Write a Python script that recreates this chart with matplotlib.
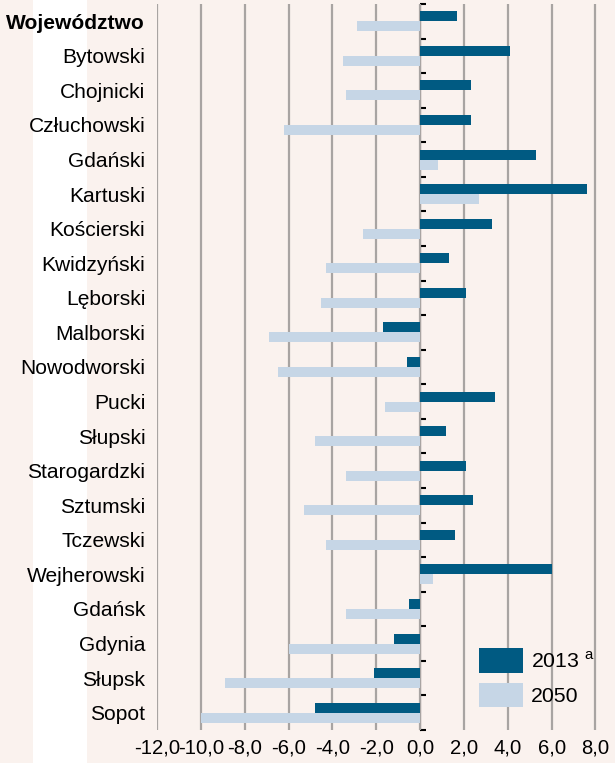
import numpy as np
import matplotlib
matplotlib.use('Agg')
import matplotlib.pyplot as plt
import matplotlib.transforms as mtransforms
from matplotlib.patches import Rectangle

plt.rcParams['font.family'] = ['Liberation Sans', 'DejaVu Sans']
plt.rcParams['mathtext.fontset'] = 'custom'
plt.rcParams['mathtext.rm'] = 'Liberation Sans'

regions = ['Województwo', 'Bytowski', 'Chojnicki', 'Człuchowski', 'Gdański',
           'Kartuski', 'Kościerski', 'Kwidzyński', 'Lęborski', 'Malborski',
           'Nowodworski', 'Pucki', 'Słupski', 'Starogardzki', 'Sztumski',
           'Tczewski', 'Wejherowski', 'Gdańsk', 'Gdynia', 'Słupsk', 'Sopot']
val_2013 = [1.7, 4.1, 2.3, 2.3, 5.3, 7.6, 3.3, 1.3, 2.1, -1.7,
            -0.6, 3.4, 1.2, 2.1, 2.4, 1.6, 6.0, -0.5, -1.2, -2.1, -4.8]
val_2050 = [-2.9, -3.5, -3.4, -6.2, 0.8, 2.7, -2.6, -4.3, -4.5, -6.9,
            -6.5, -1.6, -4.8, -3.4, -5.3, -4.3, 0.6, -3.4, -6.0, -8.9, -10.0]
xticks = [-12, -10, -8, -6, -4, -2, 0, 2, 4, 6, 8]
# small horizontal shifts (px) of the tick labels, as in the original
xlabel_shift = [-12.7, -4, -0.3, -3, -4.7, -9, -2.7, -3, 0, 0.3, 1.7]

bg = '#faf2ee'
dark = '#005a82'
light = '#c6d6e6'

fig = plt.figure(figsize=(6.15, 7.63), dpi=100, facecolor=bg)
# white strip behind labels
fig.patches.append(Rectangle((33 / 615, 0), 54 / 615, 1, transform=fig.transFigure,
                             facecolor='white', edgecolor='none', zorder=-1))
ax = fig.add_axes([157 / 615, 33 / 763, 1 - 157 / 615, 1 - 37 / 763])
ax.set_facecolor(bg)

y = np.arange(len(regions))
h = 0.29
ax.barh(y - h / 2, val_2013, height=h, color=dark, label='2013 $^{\\mathrm{a}}$', zorder=3)
ax.barh(y + h / 2, val_2050, height=h, color=light, label='2050', zorder=3)

xmax = 8.89
ax.set_xlim(-12, xmax)
ax.set_ylim(len(regions) - 0.5, -0.5)

ax.set_xticks(xticks)
ax.set_xticklabels([f'{v:.1f}'.replace('.', ',') for v in xticks], fontsize=14.6)
for lab, dx in zip(ax.get_xticklabels(), xlabel_shift):
    lab.set_transform(lab.get_transform() +
                      mtransforms.ScaledTranslation(dx / 100, 0, fig.dpi_scale_trans))
ax.set_yticks(y)
ax.set_yticklabels(regions, fontsize=15.1)
ax.get_yticklabels()[0].set_fontweight('bold')
ax.tick_params(axis='y', length=0, pad=8.5)
ax.tick_params(axis='x', length=0, pad=6)
for s in ax.spines.values():
    s.set_visible(False)
ax.grid(axis='x', color='#a8a4a2', linewidth=1.6, zorder=1)
ax.set_axisbelow(True)

# zero line with small ticks between rows
sec = ax.secondary_yaxis(12 / (12 + xmax))
sec.set_yticks(np.arange(-0.5, len(regions), 1))
sec.set_yticklabels([])
sec.tick_params(length=4, width=1.5, color='black')
sec.spines['left'].set_linewidth(2.2)
sec.spines['left'].set_color('black')

ax.legend(loc='lower left', bbox_to_anchor=(0.67, 0.011), frameon=False,
          fontsize=15.3, handlelength=2.1, handleheight=1.4, labelspacing=0.45,
          handletextpad=0.35, borderpad=0.2)

fig.savefig('out.png', dpi=100, facecolor=bg)
